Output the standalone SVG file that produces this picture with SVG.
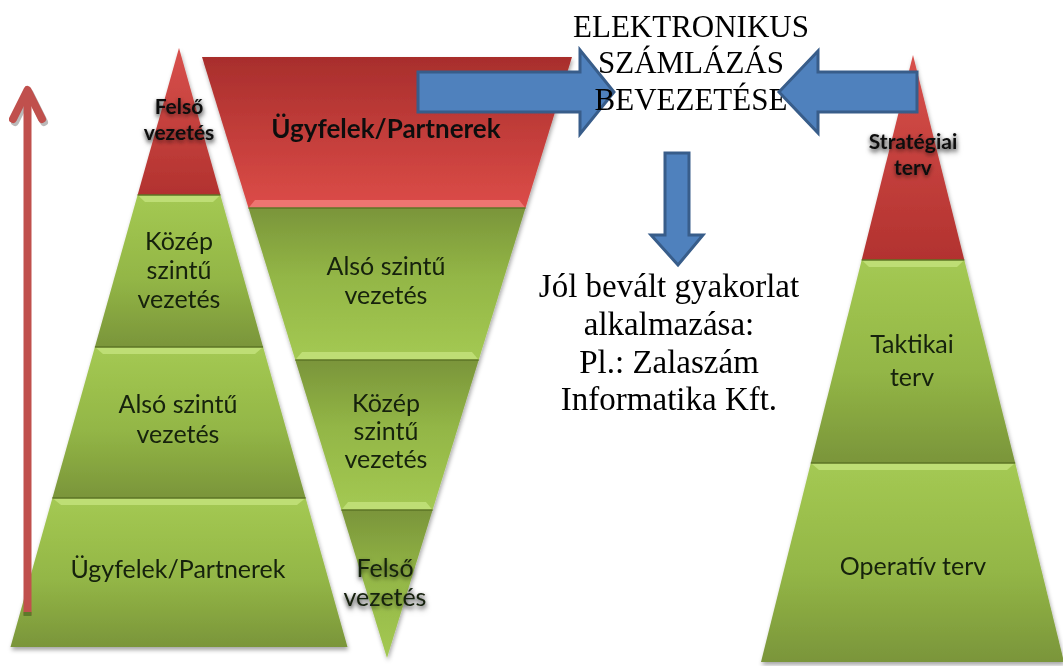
<svg xmlns="http://www.w3.org/2000/svg" width="1063" height="666" viewBox="0 0 1063 666">
<defs>
  <linearGradient id="gUp" x1="0" y1="0" x2="0" y2="1">
    <stop offset="0" stop-color="#a4c953"/>
    <stop offset="0.55" stop-color="#93b646"/>
    <stop offset="1" stop-color="#7a953a"/>
  </linearGradient>
  <linearGradient id="gDown" x1="0" y1="0" x2="0" y2="1">
    <stop offset="0" stop-color="#7a953a"/>
    <stop offset="0.45" stop-color="#93b646"/>
    <stop offset="1" stop-color="#a4c953"/>
  </linearGradient>
  <linearGradient id="rUp" x1="0" y1="0" x2="0" y2="1">
    <stop offset="0" stop-color="#d8504c"/>
    <stop offset="1" stop-color="#b2322f"/>
  </linearGradient>
  <linearGradient id="rDown" x1="0" y1="0" x2="0" y2="1">
    <stop offset="0" stop-color="#a82e2c"/>
    <stop offset="1" stop-color="#dc4c48"/>
  </linearGradient>
  <filter id="sh" x="-10%" y="-10%" width="120%" height="120%">
    <feDropShadow dx="1" dy="3" stdDeviation="2" flood-color="#000" flood-opacity="0.35"/>
  </filter>
  <filter id="tglow" x="-20%" y="-30%" width="140%" height="160%">
    <feDropShadow dx="0" dy="2" stdDeviation="2" flood-color="#000" flood-opacity="0.55"/>
  </filter>
</defs>
<style>
  .sep { stroke: #5d7526; stroke-width: 1.5; fill: none; }
  .bevG { fill: #c3e27a; opacity: 0.85; }
  .bevR { fill: #ee7a76; opacity: 0.9; }
  .lbl { font-family: Lato, "Open Sans", "Liberation Sans", sans-serif; font-size: 25px; fill: #15200c; text-anchor: middle; }
  .lblb { font-family: Lato, "Open Sans", "Liberation Sans", sans-serif; font-weight: bold; fill: #111; text-anchor: middle; }
  .tms { font-family: "Liberation Serif", "Times New Roman", serif; fill: #000; text-anchor: middle; }
  .blue { fill: #4f81bd; stroke: #385d8a; stroke-width: 3; }
</style>
<rect width="1063" height="666" fill="#ffffff"/>

<!-- Left pyramid -->
<g id="left-pyramid" filter="url(#sh)">
  <g id="lp-felso">
    <polygon points="179,48 220.4,195 137.6,195" fill="url(#rUp)"/>
    <text class="lblb" font-size="21" x="179" y="114" filter="url(#tglow)">Felső</text>
    <text class="lblb" font-size="21" x="179" y="140" filter="url(#tglow)">vezetés</text>
  </g>
  <g id="lp-kozep">
    <polygon points="137.6,195 220.4,195 263.1,347 94.9,347" fill="url(#gUp)"/>
    <polygon class="bevG" points="137.6,195 220.4,195 213,202 145,202"/>
    <text class="lbl" x="179" y="250">Közép</text>
    <text class="lbl" x="179" y="279">szintű</text>
    <text class="lbl" x="179" y="308">vezetés</text>
  </g>
  <g id="lp-also">
    <polygon points="94.9,347 263.1,347 305.6,498 52.4,498" fill="url(#gUp)"/>
    <polygon class="bevG" points="94.9,347 263.1,347 255,354 103,354"/>
    <text class="lbl" x="178" y="413">Alsó szintű</text>
    <text class="lbl" x="178" y="443">vezetés</text>
  </g>
  <g id="lp-ugyfelek">
    <polygon points="52.4,498 305.6,498 347.5,647 10.5,647" fill="url(#gUp)"/>
    <polygon class="bevG" points="52.4,498 305.6,498 297,505 61,505"/>
    <text class="lbl" x="178" y="578">Ügyfelek/Partnerek</text>
  </g>
  <line class="sep" x1="137.6" y1="195" x2="220.4" y2="195"/>
  <line class="sep" x1="94.9" y1="347" x2="263.1" y2="347"/>
  <line class="sep" x1="52.4" y1="498" x2="305.6" y2="498"/>
</g>

<!-- Middle inverted pyramid -->
<g id="mid-pyramid" filter="url(#sh)">
  <g id="mp-ugyfelek">
    <polygon points="202,57 572,57 525.5,208 248.5,208" fill="url(#rDown)"/>
    <polygon class="bevR" points="255,200 519,200 525.5,208 248.5,208"/>
    <text class="lblb" font-size="26" x="386" y="138">Ügyfelek/Partnerek</text>
  </g>
  <g id="mp-also">
    <polygon points="248.5,208 525.5,208 478.7,360 295.3,360" fill="url(#gDown)"/>
    <polygon class="bevG" points="302,352 472,352 478.7,360 295.3,360"/>
    <text class="lbl" x="386" y="275">Alsó szintű</text>
    <text class="lbl" x="386" y="304">vezetés</text>
  </g>
  <g id="mp-kozep">
    <polygon points="295.3,360 478.7,360 432.6,510 341.4,510" fill="url(#gDown)"/>
    <polygon class="bevG" points="348,502 426,502 432.6,510 341.4,510"/>
    <text class="lbl" x="386" y="412">Közép</text>
    <text class="lbl" x="386" y="440">szintű</text>
    <text class="lbl" x="386" y="468">vezetés</text>
  </g>
  <g id="mp-felso">
    <polygon points="341.4,510 432.6,510 387,658" fill="url(#gDown)"/>
    <text class="lbl" x="385" y="577" filter="url(#tglow)">Felső</text>
    <text class="lbl" x="385" y="606" filter="url(#tglow)">vezetés</text>
  </g>
  <line class="sep" x1="248.5" y1="208" x2="525.5" y2="208"/>
  <line class="sep" x1="295.3" y1="360" x2="478.7" y2="360"/>
  <line class="sep" x1="341.4" y1="510" x2="432.6" y2="510"/>
</g>

<!-- Right pyramid -->
<g id="right-pyramid" filter="url(#sh)">
  <g id="rp-strategiai">
    <polygon points="913,55 964.3,260 861.7,260" fill="url(#rUp)"/>
    <text class="lblb" font-size="21" x="913" y="149" filter="url(#tglow)">Stratégiai</text>
    <text class="lblb" font-size="21" x="913" y="175" filter="url(#tglow)">terv</text>
  </g>
  <g id="rp-taktikai">
    <polygon points="861.7,260 964.3,260 1015.2,463 810.8,463" fill="url(#gUp)"/>
    <polygon class="bevG" points="861.7,260 964.3,260 957,267 869,267"/>
    <text class="lbl" font-size="26" x="912" y="353">Taktikai</text>
    <text class="lbl" font-size="26" x="912" y="386">terv</text>
  </g>
  <g id="rp-operativ">
    <polygon points="810.8,463 1015.2,463 1064,662 761,662" fill="url(#gUp)"/>
    <polygon class="bevG" points="810.8,463 1015.2,463 1007,470 819,470"/>
    <text class="lbl" font-size="26" x="913" y="575">Operatív terv</text>
  </g>
  <line class="sep" x1="861.7" y1="260" x2="964.3" y2="260"/>
  <line class="sep" x1="810.8" y1="463" x2="1015.2" y2="463"/>
</g>

<!-- Connectors -->
<g id="connectors">
  <g id="red-arrow">
    <g transform="translate(2,3)" stroke="#8c8c8c" stroke-width="8" fill="none" opacity="0.6" stroke-linecap="round" stroke-linejoin="round">
      <polyline points="13,119 27.5,90 42,119"/>
    </g>
    <line x1="27.5" y1="92" x2="27.5" y2="615" stroke="#c0504d" stroke-width="8"/>
    <rect x="23.5" y="612" width="8" height="4" fill="#5d7a2a"/>
    <polyline points="13,119 27.5,90 42,119" stroke="#c0504d" stroke-width="8" fill="none" stroke-linecap="round" stroke-linejoin="round"/>
  </g>
  <polygon id="arrow-right" class="blue" points="418,72 580,72 580,50 614,92 580,134 580,112 418,112"/>
</g>

<g id="title">
  <text class="tms" font-size="31" x="691" y="37">ELEKTRONIKUS</text>
  <text class="tms" font-size="31" x="691" y="73">SZÁMLÁZÁS</text>
  <text class="tms" font-size="31" x="691" y="110">BEVEZETÉSE</text>
</g>

<g id="connectors-2">
  <polygon id="arrow-left" class="blue" points="917,72 818,72 818,51 779,92 818,133 818,112 917,112"/>
  <polygon id="arrow-down" class="blue" points="665,153 689,153 689,235 703,235 678,265 651,235 665,235"/>
</g>

<g id="practice">
  <text class="tms" font-size="33" x="669" y="297">Jól bevált gyakorlat</text>
  <text class="tms" font-size="33" x="669" y="335">alkalmazása:</text>
  <text class="tms" font-size="33" x="669" y="373">Pl.: Zalaszám</text>
  <text class="tms" font-size="33" x="669" y="410">Informatika Kft.</text>
</g>
</svg>
